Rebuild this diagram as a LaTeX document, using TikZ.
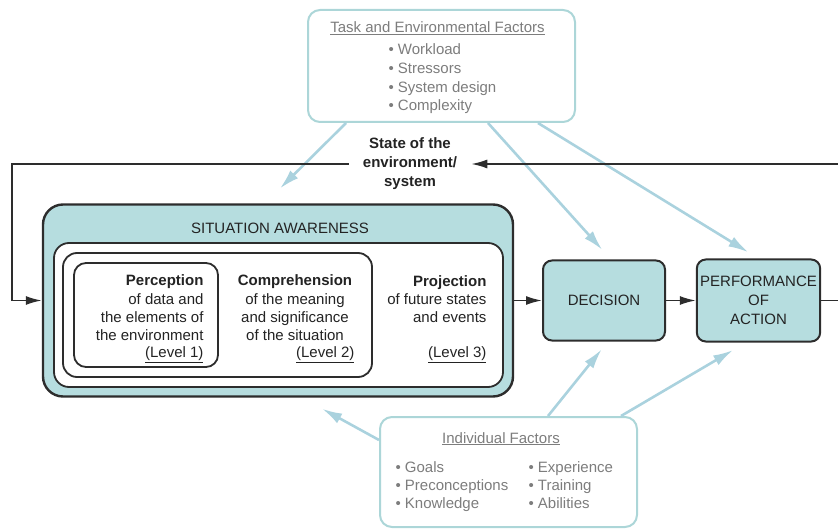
\documentclass[tikz,border=0pt]{standalone}
\usepackage{fontspec}
\setmainfont{Liberation Sans}
\usetikzlibrary{arrows.meta}

\definecolor{safill}{RGB}{182,221,223}
\definecolor{darkline}{RGB}{45,45,45}
\definecolor{darktext}{RGB}{35,35,35}
\definecolor{factorline}{RGB}{172,214,216}
\definecolor{factorarrow}{RGB}{170,210,222}
\definecolor{greytext}{RGB}{125,125,125}

\begin{document}
\begin{tikzpicture}[x=1pt, y=-1pt,
    every node/.style={font=\fontsize{15}{18.3}\selectfont, text=darktext},
    box/.style={draw=darkline, line width=2pt, fill=safill, rounded corners=9pt},
    inbox/.style={draw=darkline, line width=1.8pt, fill=white},
    factorbox/.style={draw=factorline, line width=2pt, fill=white, rounded corners=12pt},
    factortext/.style={text=greytext, text height=11pt, text depth=3pt},
    flow/.style={draw=darkline, line width=1.7pt, -{Latex[length=16pt,width=9pt]}},
    factor/.style={draw=factorarrow, line width=2.6pt, -{Latex[length=20pt,width=11pt]}}]

    \useasboundingbox (0,0) rectangle (838,529);
    \clip (0,0) rectangle (838,529);

    % factor boxes
    \node[factorbox, minimum width=267pt, minimum height=112pt] (task) at (441.5,66) {};
    \node[factortext] (tasktitle) at (437.5,29) {\underline{Task and Environmental Factors}};
    \foreach \txt [count=\i] in {Workload, Stressors, System design, Complexity} {
        \node[factortext, anchor=west] (task\i) at (385, 32+18.7*\i) {• \txt};
    }

    \node[factorbox, minimum width=257pt, minimum height=110pt] (indiv) at (508.5,472) {};
    \node[factortext] (indivtitle) at (501,439) {\underline{Individual Factors}};
    \foreach \txt [count=\i] in {Goals, Preconceptions, Knowledge} {
        \node[factortext, anchor=west] (indl\i) at (392, 450+18*\i) {• \txt};
    }
    \foreach \txt [count=\i] in {Experience, Training, Abilities} {
        \node[factortext, anchor=west] (indr\i) at (525, 450+18*\i) {• \txt};
    }

    % situation awareness
    \node[box, line width=2.4pt, rounded corners=20pt, minimum width=470pt, minimum height=192pt] (sa) at (278,300.5) {};
    \node (satitle) at (280,228) {SITUATION AWARENESS};
    \node[inbox, rounded corners=15pt, minimum width=449pt, minimum height=144pt] (proj) at (278.5,315) {};
    \node[inbox, rounded corners=14pt, minimum width=309pt, minimum height=124pt] (comp) at (217.5,315) {};
    \node[inbox, rounded corners=12pt, minimum width=144pt, minimum height=104pt] (perc) at (146,315) {};

    \node[align=right, anchor=east] (perctext) at (207,308)
        {\textbf{Perception}\\of data and\\the elements of\\the environment};
    \node[anchor=east] (level1) at (207,355) {\underline{(Level 1)}};
    \node[align=center] (comptext) at (295,308)
        {\textbf{Comprehension}\\of the meaning\\and significance\\of the situation};
    \node[anchor=east] (level2) at (358,355) {\underline{(Level 2)}};
    \node[align=right, anchor=east] (projtext) at (490,299)
        {\textbf{Projection}\\of future states\\and events};
    \node[anchor=east] (level3) at (490,355) {\underline{(Level 3)}};

    % decision and action
    \node[box, minimum width=122pt, minimum height=80pt] (decision) at (604,300.5) {DECISION};
    \node[box, minimum width=123pt, minimum height=82pt, align=center,
          font=\fontsize{15}{19}\selectfont] (perf) at (758.5,300.5) {PERFORMANCE\\OF\\ACTION};

    \node[align=center, font=\fontsize{15}{19}\selectfont\bfseries, inner xsep=14pt] (state) at (410,164)
        {State of the\\environment/\\system};

    % factor arrows
    \draw[factor, shorten >=21pt] ([xshift=39pt]task.south west) -- ([xshift=-13pt]sa.north);
    \draw[factor, shorten >=13pt] ([xshift=-88pt]task.south east) -- ([xshift=7pt]decision.north);
    \draw[factor, shorten >=12pt] ([xshift=-38pt]task.south east) -- (perf.north);
    \draw[factor, shorten >=23pt] ([yshift=32pt]indiv.west) -- ([xshift=24pt]sa.south);
    \draw[factor, shorten >=10pt] ([xshift=39.5pt]indiv.north) -- ([xshift=4pt]decision.south);
    \draw[factor, shorten >=15pt] ([xshift=-17pt]indiv.north east) -- ([xshift=-12.5pt]perf.south);

    % main flow
    \draw[flow] (sa.east) -- (decision.west);
    \draw[flow] (decision.east) -- (perf.west);
    \draw[flow] (perf.east) -- ++(40pt,0) |- (state.east);
    \draw[flow] (state.west) -| ([xshift=-30pt]sa.west) -- (sa.west);
\end{tikzpicture}
\end{document}
